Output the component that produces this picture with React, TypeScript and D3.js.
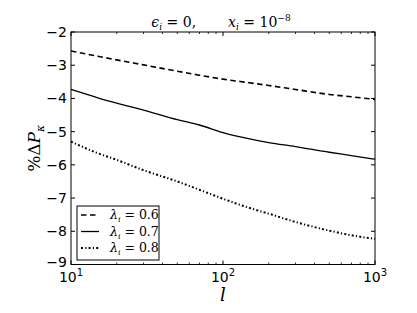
import React from "react";
import * as d3 from "d3";

// l values sampled along the x axis
const ells = [10, 15, 20, 30, 50, 70, 100, 150, 200, 300, 500, 700, 1000];

const lambda06 = [-2.57, -2.73, -2.84, -2.99, -3.18, -3.3, -3.42, -3.53, -3.61, -3.73, -3.88, -3.95, -4.03];
const lambda07 = [-3.73, -3.98, -4.14, -4.35, -4.64, -4.8, -5.03, -5.22, -5.33, -5.45, -5.62, -5.72, -5.83];
const lambda08 = [-5.3, -5.65, -5.85, -6.16, -6.5, -6.75, -7.02, -7.3, -7.47, -7.72, -7.98, -8.12, -8.23];

const legendLabels = ["0.6", "0.7", "0.8"];
const yTicks = [-2, -3, -4, -5, -6, -7, -8, -9];
const xMajor = [10, 100, 1000];

const width = 417;
const height = 313;
const margin = { top: 32, right: 42, bottom: 48.5, left: 71 };

const styles = [
  { dash: "5.5,3.5", width: 1.6 },
  { dash: null, width: 1.3 },
  { dash: "2,2.2,1.2,2.2", width: 2 },
];

const App: React.FC = () => {
  const x = d3
    .scaleLog()
    .domain([10, 1000])
    .range([margin.left, width - margin.right]);
  const y = d3
    .scaleLinear()
    .domain([-9, -2])
    .range([height - margin.bottom, margin.top]);

  const line = d3
    .line<[number, number]>()
    .x((d) => x(d[0]))
    .y((d) => y(d[1]))
    .curve(d3.curveMonotoneX);

  const series = [lambda06, lambda07, lambda08];

  const minor: number[] = [];
  for (const dec of [10, 100]) {
    for (let k = 2; k <= 9; k++) minor.push(dec * k);
  }

  const x0 = margin.left;
  const x1 = width - margin.right;
  const y0 = margin.top;
  const y1 = height - margin.bottom;
  const tickFont = "DejaVu Sans, sans-serif";
  const mathFont = "DejaVu Serif, serif";

  return (
    <svg
      width={width}
      height={height}
      style={{ position: "absolute", left: 0, top: 0, background: "#fff" }}
    >
      {series.map((vals, i) => (
        <path
          key={i}
          d={line(ells.map((l, j) => [l, vals[j]]) as [number, number][]) || ""}
          fill="none"
          stroke="#000"
          strokeWidth={styles[i].width}
          strokeDasharray={styles[i].dash || undefined}
        />
      ))}

      {/* frame */}
      <rect x={x0} y={y0} width={x1 - x0} height={y1 - y0} fill="none" stroke="#000" strokeWidth={1} />

      {/* y ticks */}
      {yTicks.map((t) => (
        <g key={t}>
          <line x1={x0} x2={x0 + 4} y1={y(t)} y2={y(t)} stroke="#000" />
          <line x1={x1} x2={x1 - 4} y1={y(t)} y2={y(t)} stroke="#000" />
          <text
            x={x0 - 4}
            y={y(t)}
            dy={t === -9 ? "0.2em" : "0.36em"}
            textAnchor="end"
            fontFamily={tickFont}
            fontSize={14}
          >
            {"\u2212" + Math.abs(t)}
          </text>
        </g>
      ))}

      {/* x ticks */}
      {xMajor.map((t) => (
        <g key={t}>
          <line x1={x(t)} x2={x(t)} y1={y1} y2={y1 - 4} stroke="#000" />
          <line x1={x(t)} x2={x(t)} y1={y0} y2={y0 + 4} stroke="#000" />
          <text x={x(t)} y={282} textAnchor="middle" fontFamily={tickFont} fontSize={14}>
            10
            <tspan fontSize={10} dy={-6}>
              {Math.log10(t)}
            </tspan>
          </text>
        </g>
      ))}
      {minor.map((t) => (
        <g key={t}>
          <line x1={x(t)} x2={x(t)} y1={y1} y2={y1 - 2} stroke="#000" strokeWidth={0.8} />
          <line x1={x(t)} x2={x(t)} y1={y0} y2={y0 + 2} stroke="#000" strokeWidth={0.8} />
        </g>
      ))}

      {/* title */}
      <text x={221} y={27} textAnchor="middle" fontFamily={mathFont} fontSize={14}>
        <tspan fontStyle="italic">ϵ</tspan>
        <tspan fontSize={9} dy={3} fontStyle="italic">i</tspan>
        <tspan dy={-3}> = 0,</tspan>
        <tspan dx={32} fontStyle="italic">x</tspan>
        <tspan fontSize={9} dy={3} fontStyle="italic">i</tspan>
        <tspan dy={-3}> = 10</tspan>
        <tspan fontSize={9} dy={-6}>{"\u2212"}8</tspan>
      </text>

      {/* y label */}
      <text
        transform={`translate(40,${(y0 + y1) / 2}) rotate(-90)`}
        textAnchor="middle"
        fontFamily={mathFont}
        fontSize={17}
      >
        %Δ<tspan fontStyle="italic">P</tspan>
        <tspan fontSize={11} dy={4} fontStyle="italic">κ</tspan>
      </text>

      {/* x label */}
      <text x={223} y={301} textAnchor="middle" fontFamily={mathFont} fontStyle="italic" fontSize={18}>
        l
      </text>

      {/* legend */}
      <rect x={77} y={206} width={82} height={54} fill="#fff" stroke="#000" strokeWidth={1} />
      {legendLabels.map((lab, i) => {
        const ly = 215 + i * 16.5;
        return (
          <g key={lab}>
            <line
              x1={81}
              x2={99}
              y1={ly}
              y2={ly}
              stroke="#000"
              strokeWidth={styles[i].width}
              strokeDasharray={styles[i].dash || undefined}
            />
            <text x={110} y={ly} dy="0.35em" fontFamily={mathFont} fontSize={12.5}>
              <tspan fontStyle="italic">λ</tspan>
              <tspan fontSize={8} dy={3} fontStyle="italic">i</tspan>
              <tspan dy={-3}> = {lab}</tspan>
            </text>
          </g>
        );
      })}
    </svg>
  );
};

export default App;
